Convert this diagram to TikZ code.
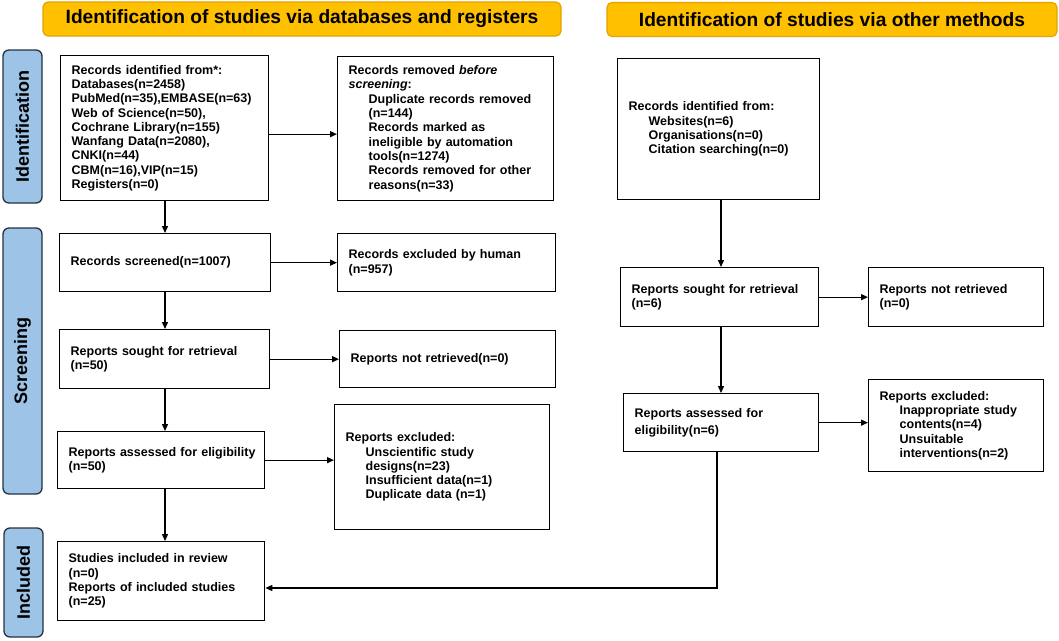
\documentclass[tikz,border=0pt]{standalone}
\usepackage{fontspec}
\setmainfont{Liberation Sans}
\usetikzlibrary{arrows.meta,calc}
\definecolor{gold}{HTML}{FFC000}
\definecolor{goldline}{HTML}{E3A300}
\definecolor{phasefill}{HTML}{9DC3E6}
\definecolor{phaseline}{HTML}{26323F}
\newcommand{\myind}{\hspace*{20pt}}
\begin{document}
\begin{tikzpicture}[x=1pt,y=-1pt,
  box/.style={draw=black, line width=1.3pt, fill=white, anchor=north west,
    align=left, inner xsep=11pt, inner ysep=0pt,
    font=\fontsize{12.5}{14.3}\selectfont\bfseries},
  banner/.style={draw=goldline, line width=1.2pt, fill=gold, rounded corners=5pt,
    font=\fontsize{19.2}{21}\selectfont\bfseries, inner sep=0pt},
  phase/.style={draw=phaseline, line width=1.3pt, fill=phasefill, rounded corners=6pt,
    rotate=90, inner sep=0pt, minimum height=39pt,
    font=\fontsize{18}{20}\selectfont\bfseries},
  arr/.style={-{Triangle[length=7pt,width=6pt]}, line width=1.3pt}]
\useasboundingbox (0,0) rectangle (1059,640);

% banners
\node[banner, minimum width=518pt, minimum height=34pt] (bL) at (302,19) {Identification of studies via databases and registers};
\node[banner, minimum width=450pt, minimum height=34pt] (bR) at (832,19.5) {Identification of studies via other methods};

% phase labels
\node[phase, minimum width=153pt] (pI) at (22.5,126.5) {Identification};
\node[phase, minimum width=266pt] (pS) at (22.5,361) {Screening};
\node[phase, minimum width=109pt] (pN) at (23.5,582.5) {Included};

% left column
\node[box, minimum width=208pt, minimum height=145pt, text width=186pt] (A) at (60,55)
 {Records identified from*:\\Databases(n=2458)\\PubMed(n=35),EMBASE(n=63)\\Web of Science(n=50),\\Cochrane Library(n=155)\\Wanfang Data(n=2080),\\CNKI(n=44)\\CBM(n=16),VIP(n=15)\\Registers(n=0)};
\node[box, minimum width=216pt, minimum height=144pt, text width=194pt] (R) at (337,56)
 {Records removed \textit{before}\\\textit{screening}:\\\myind Duplicate records removed\\\myind (n=144)\\\myind Records marked as\\\myind ineligible by automation\\\myind tools(n=1274)\\\myind Records removed for other\\\myind reasons(n=33)};
\node[box, minimum width=211pt, minimum height=58pt, text width=189pt] (S) at (59,233)
 {Records screened(n=1007)};
\node[box, minimum width=218pt, minimum height=58pt, text width=196pt] (H) at (337,233)
 {Records excluded by human\\(n=957)};
\node[box, minimum width=210pt, minimum height=59pt, text width=188pt] (SR) at (59,329)
 {Reports sought for retrieval\\(n=50)};
\node[box, minimum width=216pt, minimum height=57pt, text width=194pt] (NR) at (339,330)
 {Reports not retrieved(n=0)};
\node[box, minimum width=207pt, minimum height=57pt, text width=185pt] (E) at (57,431)
 {\mbox{Reports assessed for eligibility}\\(n=50)};
\node[box, minimum width=215pt, minimum height=125pt, text width=193pt] (X) at (334,404)
 {Reports excluded:\\\myind Unscientific study\\\myind designs(n=23)\\\myind Insufficient data(n=1)\\\myind Duplicate data (n=1)\par\vspace*{14pt}};
\node[box, minimum width=207pt, minimum height=79pt, text width=185pt] (I) at (57,541)
 {Studies included in review\\(n=0)\\Reports of included studies\\(n=25)};

% right column
\node[box, minimum width=202pt, minimum height=141pt, text width=180pt] (oA) at (617,58)
 {Records identified from:\\\myind Websites(n=6)\\\myind Organisations(n=0)\\\myind Citation searching(n=0)\par\vspace*{16pt}};
\node[box, minimum width=198pt, minimum height=59pt, text width=176pt] (oS) at (620,267)
 {Reports sought for retrieval\\(n=6)};
\node[box, minimum width=175pt, minimum height=59pt, text width=153pt] (oN) at (868,267)
 {Reports not retrieved\\(n=0)};
\node[box, minimum width=195pt, minimum height=58pt, text width=173pt,
  font=\fontsize{12.5}{17}\selectfont\bfseries] (oE) at (623,393)
 {Reports assessed for\\eligibility(n=6)};
\node[box, minimum width=175pt, minimum height=92pt, text width=153pt] (oX) at (868,379)
 {Reports excluded:\\\myind Inappropriate study\\\myind contents(n=4)\\\myind Unsuitable\\\myind interventions(n=2)};

% helper coordinates
\coordinate (colx) at (165,0);
\coordinate (rx) at (721,0);
\coordinate (c) at (717,588);
\path ([yshift=-6pt]A.east) coordinate (a1);

% connectors left
\draw[arr] (A.south -| colx) -- (S.north -| colx);
\draw[arr] (a1) -- (a1 -| R.west);
\draw[arr] (S.east) -- (S.east -| H.west);
\draw[arr] (S.south -| colx) -- (SR.north -| colx);
\draw[arr] (SR.east) -- (SR.east -| NR.west);
\draw[arr] (SR.south -| colx) -- (E.north -| colx);
\draw[arr] (E.east) -- (E.east -| X.west);
\draw[arr] (E.south -| colx) -- (I.north -| colx);

% connectors right
\draw[arr] (oA.south -| rx) -- (oS.north -| rx);
\draw[arr] (oS.east) -- (oS.east -| oN.west);
\draw[arr] (oS.south -| rx) -- (oE.north -| rx);
\draw[arr] (oE.east) -- (oE.east -| oX.west);
\draw[arr] (oE.south -| c) -- (c) -- (c -| I.east);
\end{tikzpicture}
\end{document}
